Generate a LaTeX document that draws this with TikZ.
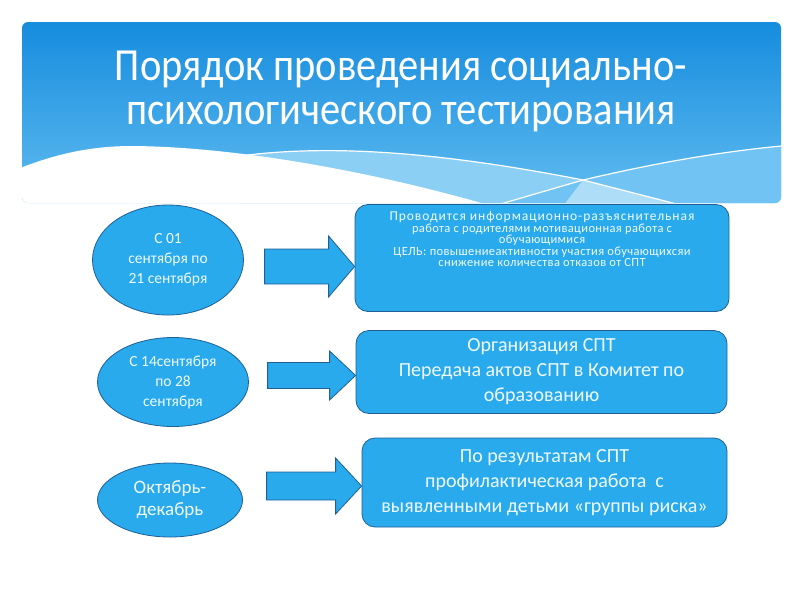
\documentclass[tikz,border=0pt]{standalone}
\usepackage{fontspec}
\setmainfont{Carlito}
\newfontfamily\titlefont[FakeStretch=0.88]{Carlito}
\newfontfamily\widefont[LetterSpace=7]{Carlito}
\newfontfamily\spacedfont[LetterSpace=3]{Carlito}
\usetikzlibrary{shapes.geometric}
\definecolor{bandtop}{RGB}{22,140,222}
\definecolor{bandbot}{RGB}{96,188,240}
\definecolor{bandlight}{RGB}{140,207,245}
\definecolor{bandmid}{RGB}{112,195,243}
\definecolor{boxfill}{RGB}{40,170,236}
\definecolor{boxline}{RGB}{32,96,150}
\definecolor{boxtext}{RGB}{240,250,255}
\tikzset{
	datebox/.style={ellipse, draw=boxline, fill=boxfill, thick, text=boxtext, align=center, inner sep=0pt},
	taskbox/.style={rectangle, rounded corners=13pt, draw=boxline, fill=boxfill, thick, text=boxtext, align=center, inner sep=0pt},
	arrowbox/.style={draw=boxline, fill=boxfill, thick, line join=miter},
}
\newcommand{\bigarrow}[4]{%
	\draw[arrowbox] (#1) -- ++(-26,-#4) -- ++(0,#4-#3) -- ++(-#2+26,0) -- ++(0,2*#3) -- ++(#2-26,0) -- ++(0,#4-#3) -- cycle;}
\begin{document}
\begin{tikzpicture}[x=1pt, y=-1pt]
	\useasboundingbox (0,0) rectangle (800,600);
	\begin{scope}
		\clip[rounded corners=6pt] (22,22) rectangle (781,203);
		\shade[top color=bandtop, bottom color=bandbot] (22,22) rectangle (781,203);
		\fill[bandlight] (240,156) .. controls (330,144) and (440,152) .. (583,180) -- (700,210) -- (240,210) -- cycle;
		\fill[bandmid] (480,210) -- (583,180) .. controls (660,162) and (720,152) .. (781,146) -- (781,210) -- cycle;
		\fill[bandlight!70!white] (560,210) -- (583,180) -- (700,210) -- cycle;
		\fill[white] (15,170) .. controls (60,152) and (95,146) .. (133,146) .. controls (250,147) and (400,178) .. (505,210) -- (15,210) -- cycle;
		\draw[white, line width=1.2pt] (240,156) .. controls (330,144) and (440,152) .. (583,180) -- (700,210);
		\draw[white, line width=1.2pt] (480,210) -- (583,180) .. controls (660,162) and (720,152) .. (781,146);
	\end{scope}
	\node[text=white, align=center, font=\titlefont\fontsize{46}{44}\selectfont] (title) at (401,91) {Порядок проведения социально-\\психологического тестирования};

	\node[datebox, minimum width=151pt, minimum height=110pt, font=\fontsize{15.5}{20}\selectfont] (e1) at (168,260) {С 01\\сентября по\\21 сентября};
	\node[datebox, minimum width=151pt, minimum height=89pt, font=\fontsize{15.5}{20}\selectfont] (e2) at (173,382) {С 14сентября\\по 28\\сентября};
	\node[datebox, minimum width=145pt, minimum height=74pt, font=\fontsize{19}{22}\selectfont] (e3) at (170,500) {Октябрь-\\декабрь};

	\node[taskbox, minimum width=374pt, minimum height=107pt, text depth=38pt, font=\spacedfont\fontsize{12.5}{11.5}\selectfont] (b1) at (542,258) {{\widefont\fontsize{13.5}{14}\selectfont Проводится информационно-разъяснительная}\\работа с родителями мотивационная работа с\\обучающимися\\ЦЕЛЬ: повышениеактивности участия обучающихсяи\\снижение количества отказов от СПТ};
	\node[taskbox, minimum width=371pt, minimum height=83pt, font=\fontsize{20}{25}\selectfont] (b2) at (541.5,372) {Организация СПТ\\Передача актов СПТ в Комитет по\\образованию};
	\node[taskbox, minimum width=365pt, minimum height=89pt, font=\fontsize{20}{25}\selectfont] (b3) at (544.5,482.5) {По результатам СПТ\\профилактическая работа~ с\\выявленными детьми «группы риска»};

	\bigarrow{[yshift=-8.5pt]b1.west}{90}{17.5}{30.5}
	\bigarrow{[yshift=-3.5pt]b2.west}{88}{13}{24.5}
	\bigarrow{[yshift=-3.5pt]b3.west}{95}{14}{28}
\end{tikzpicture}
\end{document}
